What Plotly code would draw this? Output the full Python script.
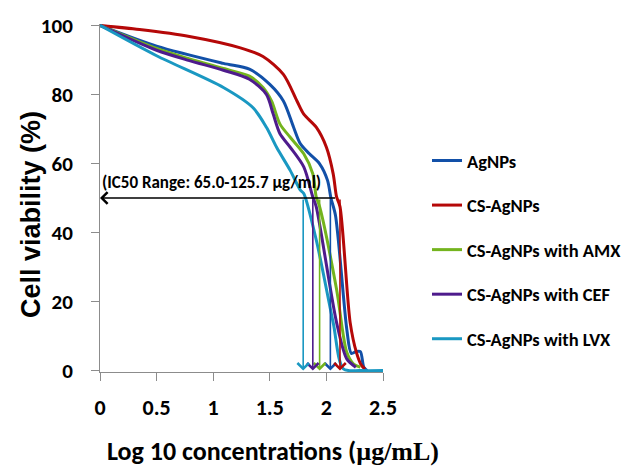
import plotly.graph_objects as go

# ---- data ----
series_names = ["AgNPs", "CS-AgNPs", "CS-AgNPs with AMX", "CS-AgNPs with CEF", "CS-AgNPs with LVX"]
series_colors = ["#1250A8", "#B50808", "#74B41E", "#4E1B8C", "#1A98C2"]

agnps_x = [0, 0.5, 1.09, 1.32, 1.5, 1.62, 1.71, 1.77, 1.85, 1.94, 2.01, 2.04, 2.08, 2.18, 2.22, 2.26, 2.30, 2.33, 2.36]
agnps_y = [100, 94, 89, 87.3, 82.9, 78.1, 70.5, 65.7, 62.8, 59.9, 55.1, 50, 45, 12, 5, 5.5, 5.5, 1, 0]

cs_x = [0, 0.35, 0.79, 1.24, 1.44, 1.62, 1.74, 1.80, 1.91, 2.0, 2.06, 2.09, 2.12, 2.21, 2.265, 2.31, 2.34]
cs_y = [100, 98.8, 96.8, 93.5, 91, 85.8, 78.1, 74.3, 70.5, 64.7, 57, 50.3, 47.5, 13.9, 5.3, 1.5, 0.5]

amx_x = [0, 0.5, 0.79, 1.09, 1.32, 1.44, 1.515, 1.59, 1.68, 1.8, 1.88, 1.91, 1.94, 2.09, 2.18, 2.24, 2.30]
amx_y = [100, 93.3, 90.3, 87.5, 85.3, 82, 78.1, 71.4, 67.6, 62.8, 57, 50.3, 47.5, 23.5, 5.3, 1.9, 1]

cef_x = [0, 0.5, 0.79, 1.09, 1.32, 1.47, 1.53, 1.59, 1.68, 1.8, 1.88, 1.91, 2.09, 2.18, 2.26]
cef_y = [100, 92.8, 89.8, 87, 84.4, 80, 74.3, 68.6, 64.7, 59, 50.3, 47.5, 13.9, 3.4, 1]

lvx_x = [0, 0.5, 1.09, 1.35, 1.47, 1.56, 1.68, 1.77, 1.80, 1.91, 2.06, 2.15, 2.3, 2.5]
lvx_y = [100, 91.2, 82, 76.2, 70.5, 64.7, 58, 52.3, 51.3, 37.9, 13.9, 0.5, 0, 0]

ic50_log = [2.035, 2.12, 1.94, 1.88, 1.795]   # arrow positions per series
ic50_level = 50
ic50_text = "(IC50 Range: 65.0-125.7 µg/ml)"

x_ticks = [0, 0.5, 1, 1.5, 2, 2.5]
x_tick_labels = ["0", "0.5", "1", "1.5", "2", "2.5"]
y_ticks = [0, 20, 40, 60, 80, 100]

xs = [agnps_x, cs_x, amx_x, cef_x, lvx_x]
ys = [agnps_y, cs_y, amx_y, cef_y, lvx_y]

CAL = "Carlito, Lato, sans-serif"
ARIAL = "Liberation Sans, Arial, sans-serif"

W, H = 639, 466
L, R, T, B = 100, 256, 24, 94
pw, ph = W - L - R, H - T - B


def px(xp):
    return (xp - L) / pw


def py(yp):
    return (H - B - yp) / ph


fig = go.Figure()
for name, color, x, y in zip(series_names, series_colors, xs, ys):
    fig.add_trace(go.Scatter(
        x=x, y=y, mode="lines", name=name, legendgroup=name,
        line=dict(color=color, width=3, shape="spline", smoothing=0.8),
    ))

# vertical IC50 arrows
for xv, color in zip(ic50_log, series_colors):
    fig.add_annotation(x=xv, y=0, ax=xv, ay=ic50_level, xref="x", yref="y",
                       axref="x", ayref="y", showarrow=True, arrowhead=4,
                       arrowsize=1.4, arrowwidth=1.6, arrowcolor=color,
                       standoff=0, startstandoff=0, text="")
# horizontal arrow
fig.add_annotation(x=0, y=ic50_level, ax=max(ic50_log) - 0.03, ay=ic50_level,
                   xref="x", yref="y", axref="x", ayref="y", showarrow=True,
                   arrowhead=4, arrowsize=1.4, arrowwidth=1.6, arrowcolor="black",
                   standoff=0, text="")
fig.add_annotation(x=0, y=ic50_level + 0.8, xref="x", yref="y", text="<b>" + ic50_text + "</b>",
                   showarrow=False, xanchor="left", yanchor="bottom",
                   font=dict(family=CAL, size=17, color="black"))

# axis titles
fig.add_annotation(x=px(273), y=py(451), xref="paper", yref="paper", showarrow=False,
                   xanchor="center", yanchor="middle",
                   text="<b>Log 10 concentrations (</b><span style=\"font-family:'Liberation Serif'\"><b>µg/mL)</b></span>",
                   font=dict(family=CAL, size=26, color="black"))
fig.add_annotation(x=px(31), y=py(215), xref="paper", yref="paper", showarrow=False,
                   xanchor="center", yanchor="middle",
                   text="<b>Cell viability (%)</b>", textangle=-90,
                   font=dict(family=ARIAL, size=27, color="black"))

fig.update_layout(
    width=W, height=H, margin=dict(l=L, r=R, t=T, b=B),
    paper_bgcolor="white", plot_bgcolor="white",
    showlegend=True,
    legend=dict(x=px(427), xanchor="left", y=py(142), yanchor="top",
                font=dict(family=CAL, size=18.5, color="black", weight="bold"),
                tracegroupgap=17.5, itemwidth=30, borderwidth=0, bgcolor="rgba(0,0,0,0)"),
    xaxis=dict(range=[0, 2.5], tickvals=x_ticks, ticktext=x_tick_labels,
               showgrid=False, zeroline=False, showline=True, linecolor="#8c8c8c",
               linewidth=1, ticks="outside", ticklen=8, tickcolor="#8c8c8c",
               ticklabelstandoff=8,
               tickfont=dict(family=CAL, size=22, color="black", weight="bold")),
    yaxis=dict(range=[-0.4, 100.4], tickvals=y_ticks,
               showgrid=False, zeroline=False, showline=True, linecolor="#8c8c8c",
               linewidth=1, ticks="outside", ticklen=8, tickcolor="#8c8c8c",
               ticklabelstandoff=14,
               tickfont=dict(family=CAL, size=21, color="black", weight="bold")),
)

fig.write_html("out.html", config={"displayModeBar": False},
               post_script="document.body.style.margin='0px';")
